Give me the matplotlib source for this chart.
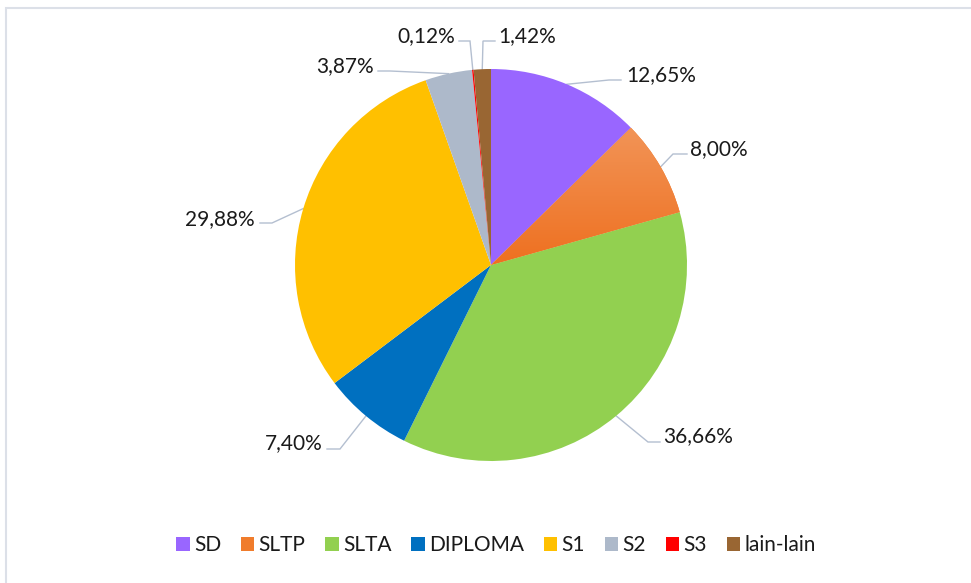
import numpy as np
import matplotlib
matplotlib.use("Agg")
import matplotlib.pyplot as plt
from matplotlib.patches import Rectangle
from matplotlib.colors import LinearSegmentedColormap

plt.rcParams['font.family'] = ['Lato', 'DejaVu Sans']

# data
categories = ['SD', 'SLTP', 'SLTA', 'DIPLOMA', 'S1', 'S2', 'S3', 'lain-lain']
values = [12.65, 8.00, 36.66, 7.40, 29.88, 3.87, 0.12, 1.42]
labels = ['12,65%', '8,00%', '36,66%', '7,40%', '29,88%', '3,87%', '0,12%', '1,42%']
colors = ['#9966FF', '#F07C2C', '#92D050', '#0070C0', '#FFC000', '#ADB9CA', '#FF0000', '#996633']

# layout (pixels): pie centre and radius, leader elbows/ends, label anchors
W, H = 971, 583
CX, CY, R = 491, 265, 196
elbows = [(609, 80), (673, 154), (648, 442), (340, 449), (272, 223), (390, 71), (470, 41), (483, 41)]
ends = [(621, 80), (687, 154), (660, 442), (327, 449), (260, 223), (378, 71), (459, 41), (495, 41)]
text_pos = [(626, 81), (690, 155), (663, 442), (323, 449), (255, 225), (374, 72), (455, 42), (498, 42)]
text_ha = ['left', 'left', 'left', 'right', 'right', 'right', 'right', 'left']


def px(x, y):
    return ((x - CX) / R, (CY - y) / R)


fig = plt.figure(figsize=(W / 100, H / 100), dpi=100)
ax = fig.add_axes([0, 0, 1, 1])

wedges, _ = ax.pie(values, colors=colors, startangle=90, counterclock=False,
                   radius=1, center=(0, 0), wedgeprops=dict(linewidth=0))

# soft vertical gradient on the SLTP slice
w = wedges[1]
top = np.sin(np.radians(w.theta2))
grad = np.linspace(0, 1, 256).reshape(-1, 1)
cmap = LinearSegmentedColormap.from_list('sltp', ['#F29457', '#EE7020'])
im = ax.imshow(grad, cmap=cmap, extent=[0, 1.05, 0, top], origin='upper',
               aspect='auto', zorder=w.get_zorder() + 0.1)
im.set_clip_path(w)

# leader lines and labels
lead_col = '#B4BFD0'
for i, w in enumerate(wedges):
    ang = np.radians((w.theta1 + w.theta2) / 2)
    sx, sy = np.cos(ang), np.sin(ang)
    ex, ey = px(*elbows[i])
    tx, ty = px(*ends[i])
    ax.plot([sx, ex, tx], [sy, ey, ty], color=lead_col, lw=1.0, zorder=0.5,
            solid_joinstyle='miter')
    lx, ly = px(*text_pos[i])
    ax.text(lx, ly, labels[i], ha=text_ha[i], va='baseline', fontsize=15,
            color='#1a1a1a')

ax.set_xlim(-CX / R, (W - CX) / R)
ax.set_ylim((CY - H) / R, CY / R)
ax.axis('off')

leg = fig.legend(wedges, categories, loc='center', ncol=8,
                 bbox_to_anchor=(496 / W, 1 - 545 / H), frameon=False,
                 fontsize=15, handlelength=0.65, handleheight=0.65,
                 handletextpad=0.2, columnspacing=0.95, borderpad=0)
for t in leg.get_texts():
    t.set_color('#1a1a1a')

# outer chart border (light grey, runs off the right and bottom edge)
fig.patches.append(Rectangle((6 / W, -0.1), 1.2, 1 - 8 / H + 0.1,
                             transform=fig.transFigure, fill=False,
                             edgecolor='#DCE0E8', linewidth=1.5))

fig.savefig('out.png', dpi=100)
